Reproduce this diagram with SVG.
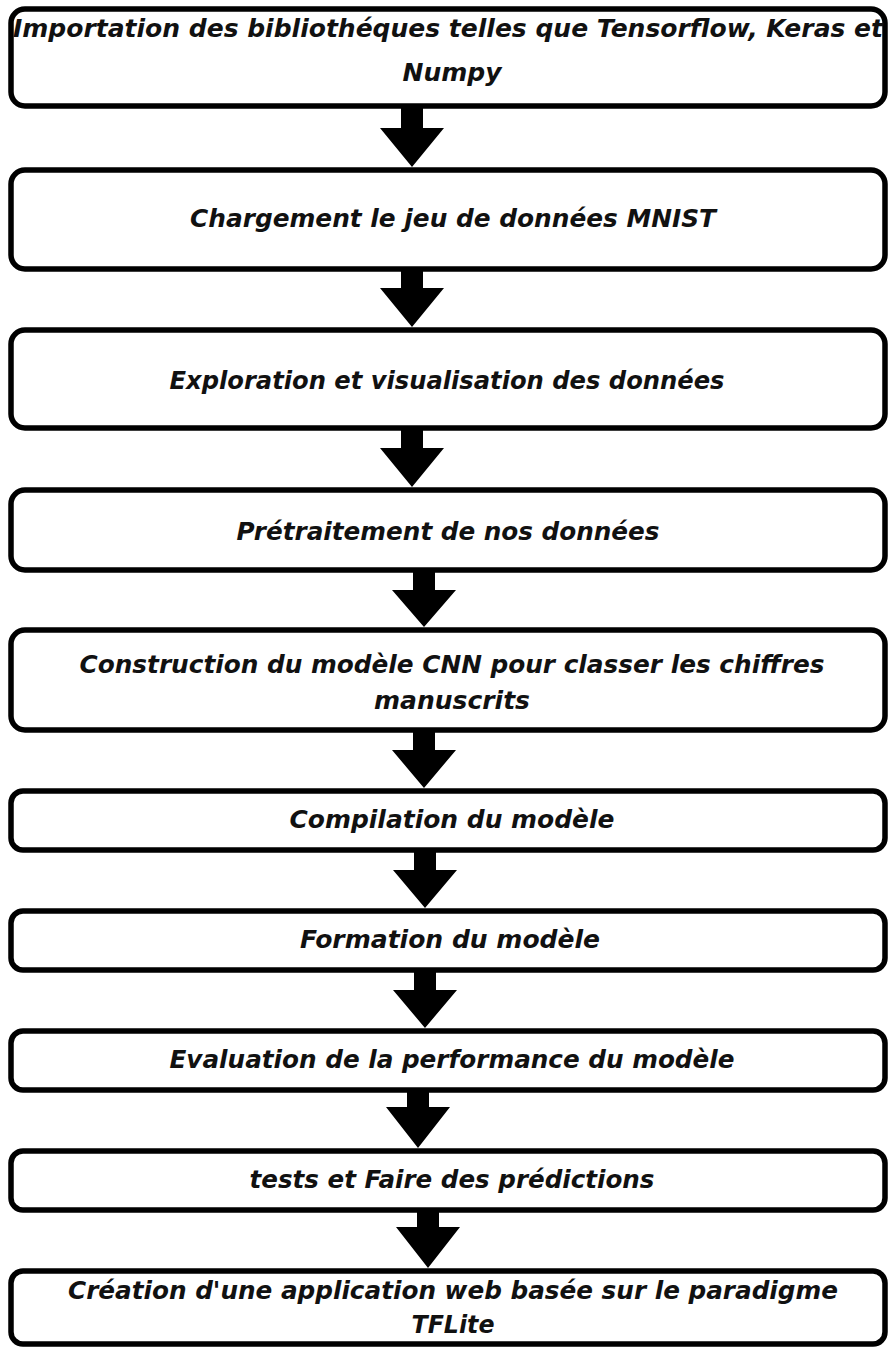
<svg xmlns="http://www.w3.org/2000/svg" width="893" height="1349" viewBox="0 0 893 1349">
<style>
.box{fill:#fff;stroke:#000;stroke-width:5.5}
.lbl{font-family:"DejaVu Sans",Verdana,sans-serif;font-style:italic;font-weight:bold;font-size:24px;fill:#111;text-anchor:middle}
.arr{fill:#000}
</style>
<rect width="893" height="1349" fill="#fff"/>
<g id="connectors">
<polygon class="arr" points="401,106 423,106 423,128 444,128 412,167 380,128 401,128"/>
<polygon class="arr" points="401,269 423,269 423,288 444,288 412,327 380,288 401,288"/>
<polygon class="arr" points="401,428 423,428 423,448 444,448 412,487 380,448 401,448"/>
<polygon class="arr" points="413,570 435,570 435,590 456,590 424,627 392,590 413,590"/>
<polygon class="arr" points="413,730 435,730 435,750 456,750 424,788 392,750 413,750"/>
<polygon class="arr" points="414,850 436,850 436,870 457,870 425,908 393,870 414,870"/>
<polygon class="arr" points="414,970 436,970 436,990 457,990 425,1028 393,990 414,990"/>
<polygon class="arr" points="407,1090 429,1090 429,1107 450,1107 418,1148 386,1107 407,1107"/>
<polygon class="arr" points="417,1210 439,1210 439,1227 460,1227 428,1268 396,1227 417,1227"/>
</g>
<g id="n1"><rect class="box" x="11" y="9" width="874" height="97" rx="14"/>
<text class="lbl" x="448" y="37" textLength="870" lengthAdjust="spacingAndGlyphs">Importation des bibliothéques telles que Tensorflow, Keras et</text>
<text class="lbl" x="452" y="81" textLength="99" lengthAdjust="spacingAndGlyphs">Numpy</text></g>
<g id="n2"><rect class="box" x="11" y="170" width="874" height="99" rx="14"/>
<text class="lbl" x="453" y="227" textLength="526" lengthAdjust="spacingAndGlyphs">Chargement le jeu de données MNIST</text></g>
<g id="n3"><rect class="box" x="11" y="330" width="874" height="98" rx="14"/>
<text class="lbl" x="447" y="389" textLength="555" lengthAdjust="spacingAndGlyphs">Exploration et visualisation des données</text></g>
<g id="n4"><rect class="box" x="11" y="490" width="874" height="80" rx="14"/>
<text class="lbl" x="448" y="540" textLength="423" lengthAdjust="spacingAndGlyphs">Prétraitement de nos données</text></g>
<g id="n5"><rect class="box" x="11" y="630" width="874" height="100" rx="14"/>
<text class="lbl" x="452" y="673" textLength="745" lengthAdjust="spacingAndGlyphs">Construction du modèle CNN pour classer les chiffres</text>
<text class="lbl" x="452" y="709" textLength="156" lengthAdjust="spacingAndGlyphs">manuscrits</text></g>
<g id="n6"><rect class="box" x="11" y="791" width="874" height="59" rx="12"/>
<text class="lbl" x="452" y="828" textLength="325" lengthAdjust="spacingAndGlyphs">Compilation du modèle</text></g>
<g id="n7"><rect class="box" x="11" y="911" width="874" height="59" rx="12"/>
<text class="lbl" x="450" y="948" textLength="300" lengthAdjust="spacingAndGlyphs">Formation du modèle</text></g>
<g id="n8"><rect class="box" x="11" y="1031" width="874" height="59" rx="12"/>
<text class="lbl" x="452" y="1068" textLength="565" lengthAdjust="spacingAndGlyphs">Evaluation de la performance du modèle</text></g>
<g id="n9"><rect class="box" x="11" y="1151" width="874" height="59" rx="12"/>
<text class="lbl" x="452" y="1188" textLength="405" lengthAdjust="spacingAndGlyphs">tests et Faire des prédictions</text></g>
<g id="n10"><rect class="box" x="11" y="1271" width="874" height="73" rx="12"/>
<text class="lbl" x="453" y="1299" textLength="770" lengthAdjust="spacingAndGlyphs">Création d'une application web basée sur le paradigme</text>
<text class="lbl" x="453" y="1333" textLength="83" lengthAdjust="spacingAndGlyphs">TFLite</text></g>
</svg>
